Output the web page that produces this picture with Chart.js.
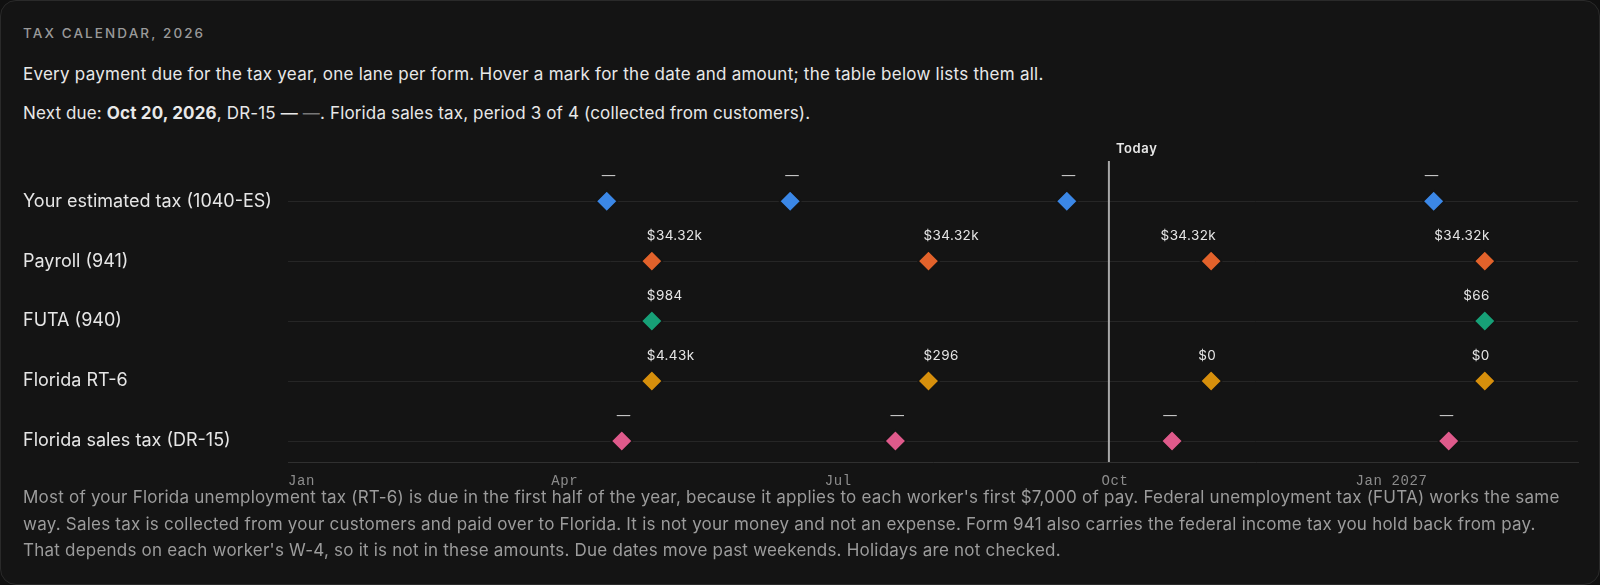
<!DOCTYPE html>
<html>
<head>
<meta charset="utf-8">
<script src="https://cdn.jsdelivr.net/npm/chart.js@4.4.1/dist/chart.umd.min.js"></script>
<style>
  html, body { margin: 0; padding: 0; width: 1600px; height: 585px; background: #101010; overflow: hidden; }
  .card {
    position: absolute; left: 0; top: 0; width: 1598px; height: 583px;
    background: #141414; border: 1px solid #2a2a2a; border-radius: 16px;
    font-family: Inter, "Noto Sans", sans-serif; color: #e8e8e8;
  }
  .kicker { position: absolute; left: 22px; top: 24px; font-size: 13.5px; letter-spacing: 2.1px; color: #9a9a9a; font-weight: 500; }
  .sub { position: absolute; left: 22px; top: 63px; font-size: 17px; letter-spacing: 0.25px; white-space: nowrap; }
  .next { position: absolute; left: 22px; top: 102px; font-size: 17px; letter-spacing: 0.15px; white-space: nowrap; }
  .next b { font-weight: 700; }
  .next .dim { color: #777; }
  .chart-box { position: absolute; left: 0; top: 130px; width: 1600px; height: 360px; }
  .note { position: absolute; left: 22px; top: 483px; font-size: 17px; letter-spacing: 0.22px; line-height: 26.5px; color: #9c9c9c; white-space: nowrap; }
</style>
</head>
<body>
<div class="card">
  <div class="kicker">TAX CALENDAR, 2026</div>
  <div class="sub">Every payment due for the tax year, one lane per form. Hover a mark for the date and amount; the table below lists them all.</div>
  <div class="next">Next due: <b>Oct 20, 2026</b>, DR-15 — <span class="dim">—</span>. Florida sales tax, period 3 of 4 (collected from customers).</div>
  <div class="chart-box"><canvas id="lanes" width="1600" height="360"></canvas></div>
  <div class="note">Most of your Florida unemployment tax (RT-6) is due in the first half of the year, because it applies to each worker's first $7,000 of pay. Federal unemployment tax (FUTA) works the same<br>way. Sales tax is collected from your customers and paid over to Florida. It is not your money and not an expense. Form 941 also carries the federal income tax you hold back from pay.<br>That depends on each worker's W-4, so it is not in these amounts. Due dates move past weekends. Holidays are not checked.</div>
</div>
<script>
// lanes, top to bottom
const lanes = ['Your estimated tax (1040-ES)', 'Payroll (941)', 'FUTA (940)', 'Florida RT-6', 'Florida sales tax (DR-15)'];
const laneColors = ['#3b87e6', '#e2622b', '#17a077', '#d68f0c', '#df5a8b'];

// due dates and amounts per form (null = amount not known)
const dates1040 = ['2026-04-15', '2026-06-15', '2026-09-15', '2027-01-15'];
const amounts1040 = [null, null, null, null];
const dates941 = ['2026-04-30', '2026-07-31', '2026-11-02', '2027-02-01'];
const amounts941 = [34320, 34320, 34320, 34320];
const dates940 = ['2026-04-30', '2027-02-01'];
const amounts940 = [984, 66];
const datesRT6 = ['2026-04-30', '2026-07-31', '2026-11-02', '2027-02-01'];
const amountsRT6 = [4430, 296, 0, 0];
const datesDR15 = ['2026-04-20', '2026-07-20', '2026-10-20', '2027-01-20'];
const amountsDR15 = [null, null, null, null];

const todayDate = '2026-09-29';
const tickDates = ['2026-01-01', '2026-04-01', '2026-07-01', '2026-10-01', '2027-01-01'];
const tickLabels = ['Jan', 'Apr', 'Jul', 'Oct', 'Jan 2027'];
const xStart = '2025-12-30';
const xEnd = '2027-03-04';

// days since Jan 1 2026
const dayOf = s => {
  const [y, m, d] = s.split('-').map(Number);
  return (Date.UTC(y, m - 1, d) - Date.UTC(2026, 0, 1)) / 86400000;
};

const fmtAmount = v => {
  if (v === null) return '—';
  if (v >= 1000) return '$' + (v / 1000).toFixed(2) + 'k';
  return '$' + v;
};

const series = [
  [dates1040, amounts1040],
  [dates941, amounts941],
  [dates940, amounts940],
  [datesRT6, amountsRT6],
  [datesDR15, amountsDR15]
];

const datasets = series.map(([dates, amounts], lane) => ({
  label: lanes[lane],
  data: dates.map((d, i) => ({ x: dayOf(d), y: lane, amount: amounts[i] })),
  pointStyle: 'rectRot',
  pointRadius: 10.5,
  pointHoverRadius: 11.5,
  backgroundColor: laneColors[lane],
  borderColor: '#141414',
  borderWidth: 1.5
}));

// today marker, amount labels and month labels
const laneExtras = {
  id: 'laneExtras',
  beforeDatasetsDraw(chart) {
    const { ctx, chartArea } = chart;
    const x = chart.scales.x.getPixelForValue(dayOf(todayDate));
    ctx.save();
    ctx.strokeStyle = '#a8a8a8';
    ctx.lineWidth = 2;
    ctx.beginPath();
    ctx.moveTo(x, chartArea.top);
    ctx.lineTo(x, chartArea.bottom);
    ctx.stroke();
    ctx.fillStyle = '#e8e8e8';
    ctx.font = '600 13px Inter';
    ctx.letterSpacing = '0.6px';
    ctx.textBaseline = 'middle';
    ctx.textAlign = 'left';
    ctx.fillText('Today', x + 7, chartArea.top - 12);
    ctx.restore();
  },
  afterDatasetsDraw(chart) {
    const { ctx, chartArea } = chart;
    const todayX = chart.scales.x.getPixelForValue(dayOf(todayDate));
    ctx.save();
    ctx.font = '13.5px Inter';
    ctx.letterSpacing = '0.4px';
    ctx.textBaseline = 'middle';
    chart.data.datasets.forEach((ds, di) => {
      chart.getDatasetMeta(di).data.forEach((pt, i) => {
        const amt = ds.data[i].amount;
        ctx.fillStyle = amt === null ? '#c4c4c4' : '#e6e6e6';
        const after = pt.x > todayX;
        ctx.textAlign = after ? 'right' : 'left';
        ctx.fillText(fmtAmount(amt), after ? pt.x + 5 : pt.x - 5, pt.y - 25);
      });
    });
    // month labels
    const xs = chart.scales.x;
    ctx.font = '14px "Liberation Mono"';
    ctx.letterSpacing = '0.6px';
    ctx.fillStyle = '#8c8c8c';
    ctx.textAlign = 'left';
    tickDates.forEach((d, i) => {
      const px = xs.getPixelForValue(dayOf(d));
      const w = ctx.measureText(tickLabels[i]).width;
      ctx.fillText(tickLabels[i], Math.max(px - w / 2, chartArea.left), chartArea.bottom + 19);
    });
    ctx.restore();
  }
};

new Chart(document.getElementById('lanes'), {
  type: 'scatter',
  data: { datasets },
  plugins: [laneExtras],
  options: {
    responsive: false,
    animation: false,
    layout: { padding: { left: 22, right: 23, top: 30, bottom: 0 } },
    plugins: {
      legend: { display: false },
      tooltip: {
        callbacks: {
          label: c => c.dataset.label + ': ' + fmtAmount(c.raw.amount)
        }
      }
    },
    scales: {
      x: {
        type: 'linear',
        min: dayOf(xStart),
        max: dayOf(xEnd),
        afterBuildTicks: s => { s.ticks = tickDates.map(d => ({ value: dayOf(d) })); },
        afterFit: s => { s.height = 29; },
        ticks: { display: false },
        grid: { display: false },
        border: { color: '#303030', width: 1 }
      },
      y: {
        type: 'linear',
        reverse: true,
        min: -0.67,
        max: 4.35,
        afterBuildTicks: s => { s.ticks = lanes.map((_, i) => ({ value: i })); },
        afterFit: s => { s.width = 265; },
        ticks: {
          callback: v => lanes[v],
          color: '#e6e6e6',
          font: { family: 'Inter', size: 18 },
          crossAlign: 'far',
          padding: 0
        },
        grid: { color: '#262626', drawTicks: false },
        border: { display: false }
      }
    }
  }
});
</script>
</body>
</html>
